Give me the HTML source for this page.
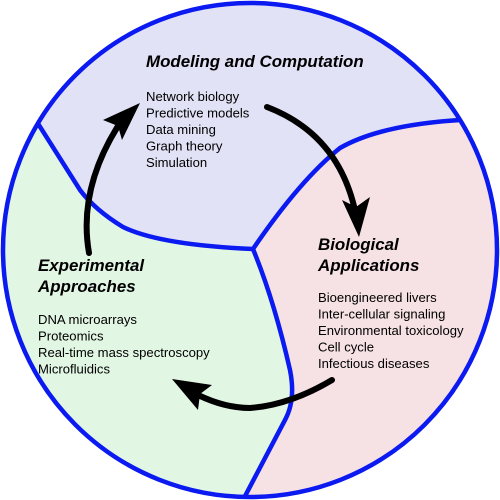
<!DOCTYPE html>
<html><head><style>
html,body{margin:0;padding:0;background:#fff;}
svg{display:block;}
.t{font-family:"Liberation Sans",sans-serif;font-weight:bold;font-style:italic;font-size:16.9px;fill:#000;}
.l{font-family:"Liberation Sans",sans-serif;font-size:13.1px;fill:#000;}
</style></head><body>
<svg width="500" height="500" viewBox="0 0 500 500" xmlns="http://www.w3.org/2000/svg">
<defs><clipPath id="c"><circle cx="250" cy="250" r="247"/></clipPath></defs>
<g clip-path="url(#c)">
<rect width="500" height="500" fill="#e2f6e4"/>
<path d="M253,249 Q274,300 290,370 Q296,400 285,420 L243,500 L500,500 L500,0 L460,120 Q380,125 340,148 Q300,180 253,249 Z" fill="#f6e2e4"/>
<path d="M0,0 L500,0 L500,110 L460,120 Q380,125 340,148 Q300,180 253,249 Q160,245 123,227 Q95,210 80,190 L37,122 L0,60 Z" fill="#e2e2f6"/>
<path d="M37,122 L80,190 Q95,210 123,227 Q160,245 253,249 Q300,180 340,148 Q380,125 460,120" fill="none" stroke="#0a1af0" stroke-width="4.5"/>
<path d="M253,249 Q274,300 290,370 Q296,400 285,420 L243,500" fill="none" stroke="#0a1af0" stroke-width="4.5"/>
</g>
<circle cx="250" cy="250" r="247" fill="none" stroke="#0a1af0" stroke-width="4.5"/>
<path d="M89,253 Q78,190 118,126" fill="none" stroke="#000" stroke-width="6" stroke-linecap="round"/>
<path d="M140,103 L122,140 L118,126 L103,120 Z" fill="#000"/>
<path d="M267,107 Q340,135 356,215" fill="none" stroke="#000" stroke-width="6" stroke-linecap="round"/>
<path d="M359,237 L342,200 L356,207 L370,197 Z" fill="#000"/>
<path d="M332,380 Q290,405 250,408 Q225,408 198,395" fill="none" stroke="#000" stroke-width="6" stroke-linecap="round"/>
<path d="M172,379 L212,385 L200,394 L198,410 Z" fill="#000"/>
<text class="t" x="146" y="67">Modeling and Computation</text>
<text class="l" x="146" y="101">Network biology</text>
<text class="l" x="146" y="117.5">Predictive models</text>
<text class="l" x="146" y="134">Data mining</text>
<text class="l" x="146" y="150.5">Graph theory</text>
<text class="l" x="146" y="167">Simulation</text>
<text class="t" x="318" y="250">Biological</text>
<text class="t" x="318" y="271">Applications</text>
<text class="l" x="318" y="302">Bioengineered livers</text>
<text class="l" x="318" y="318.5">Inter-cellular signaling</text>
<text class="l" x="318" y="335">Environmental toxicology</text>
<text class="l" x="318" y="351.5">Cell cycle</text>
<text class="l" x="318" y="368">Infectious diseases</text>
<text class="t" x="38" y="271">Experimental</text>
<text class="t" x="38" y="292">Approaches</text>
<text class="l" x="38" y="324">DNA microarrays</text>
<text class="l" x="38" y="340.5">Proteomics</text>
<text class="l" x="38" y="357">Real-time mass spectroscopy</text>
<text class="l" x="38" y="373.5">Microfluidics</text>
</svg>
</body></html>
